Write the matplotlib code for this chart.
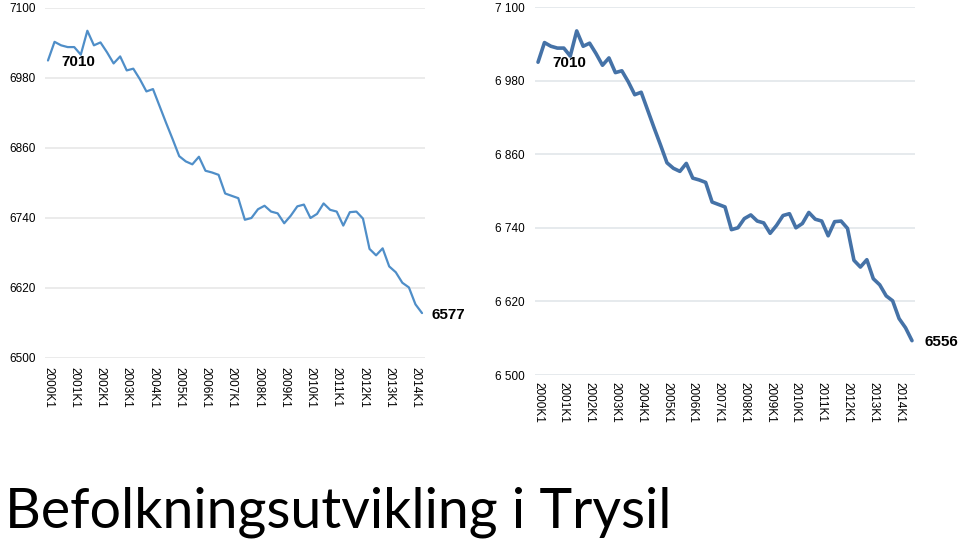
"""Trysil population, two versions of the same quarterly series side by side."""

import matplotlib

matplotlib.use("Agg")
import matplotlib.pyplot as plt
from matplotlib.ticker import FuncFormatter


YEAR_LABELS = [
    "2000K1", "2001K1", "2002K1", "2003K1", "2004K1", "2005K1", "2006K1", "2007K1",
    "2008K1", "2009K1", "2010K1", "2011K1", "2012K1", "2013K1", "2014K1",
]

# quarterly population, 2000K1 .. 2014K3
POPULATION_LATEST = [
    7010, 7042, 7036, 7033, 7033, 7020, 7061, 7036, 7041, 7024,
    7005, 7017, 6993, 6996, 6978, 6957, 6961, 6932, 6903, 6875,
    6846, 6837, 6832, 6845, 6821, 6818, 6814, 6782, 6778, 6774,
    6737, 6740, 6755, 6761, 6751, 6748, 6731, 6744, 6760, 6763,
    6740, 6747, 6765, 6754, 6751, 6727, 6750, 6751, 6739, 6687,
    6676, 6688, 6657, 6647, 6629, 6621, 6592, 6577, 6556,
]

# same series one quarter earlier, 2000K1 .. 2014K2
POPULATION_EARLIER = POPULATION_LATEST[:-1]

Y_TICKS = [6500, 6620, 6740, 6860, 6980, 7100]
TITLE = "Befolkningsutvikling i Trysil"

FONT = "Liberation Sans"
PX = 72 / 100  # points per pixel at dpi 100


def draw_panel(fig, rect, values, color, linewidth, grid_color, ylabel_fmt,
               ypad_px, xpad_px, first_offset_px, last_offset_px):
    ax = fig.add_axes(rect)
    x = list(range(len(values)))
    ax.plot(x, values, color=color, linewidth=linewidth, solid_joinstyle="round",
            solid_capstyle="round", zorder=3)
    ax.set_xlim(-0.5, len(values) - 0.5)
    ax.set_ylim(Y_TICKS[0], Y_TICKS[-1])

    ax.set_yticks(Y_TICKS)
    ax.yaxis.set_major_formatter(FuncFormatter(ylabel_fmt))
    ax.set_xticks(list(range(0, 4 * len(YEAR_LABELS), 4)))
    ax.set_xticklabels(YEAR_LABELS, rotation=-90, ha="center", va="top")
    ax.tick_params(axis="both", length=0, labelsize=8.5, colors="#000000")
    ax.tick_params(axis="y", pad=ypad_px * PX)
    ax.tick_params(axis="x", pad=xpad_px * PX)
    for label in ax.get_xticklabels() + ax.get_yticklabels():
        label.set_fontfamily(FONT)

    ax.yaxis.grid(True, color=grid_color, linewidth=1.2)
    ax.set_axisbelow(True)
    for spine in ax.spines.values():
        spine.set_visible(False)
    ax.patch.set_alpha(0)

    ax.annotate(f"{values[0]}", xy=(0, values[0]), xytext=(first_offset_px * PX, -1 * PX),
                textcoords="offset points", ha="left", va="center",
                fontsize=11, fontweight="bold", family=FONT)
    ax.annotate(f"{values[-1]}", xy=(len(values) - 1, values[-1]),
                xytext=(last_offset_px * PX, -1.5 * PX), textcoords="offset points",
                ha="left", va="center", fontsize=11, fontweight="bold", family=FONT)
    return ax


fig = plt.figure(figsize=(9.6, 5.42), dpi=100)

draw_panel(
    fig, [44.7 / 960, 1 - 358 / 542, 380.6 / 960, 350 / 542],
    POPULATION_EARLIER, "#4f8ec8", 1.6, "#e8e8e8",
    lambda v, _: f"{v:.0f}", 9, 9, 13, 9,
)
draw_panel(
    fig, [534.8 / 960, 1 - 375 / 542, 380.4 / 960, 368 / 542],
    POPULATION_LATEST, "#4572a7", 2.6, "#e2e6ea",
    lambda v, _: f"{v:,.0f}".replace(",", " "), 10, 7, 14, 13,
)

fig.text(5 / 960, 1 - 528 / 542, TITLE, ha="left", va="baseline",
         fontsize=40, family="Lato", color="#000000")

fig.savefig("out.png", dpi=100)
